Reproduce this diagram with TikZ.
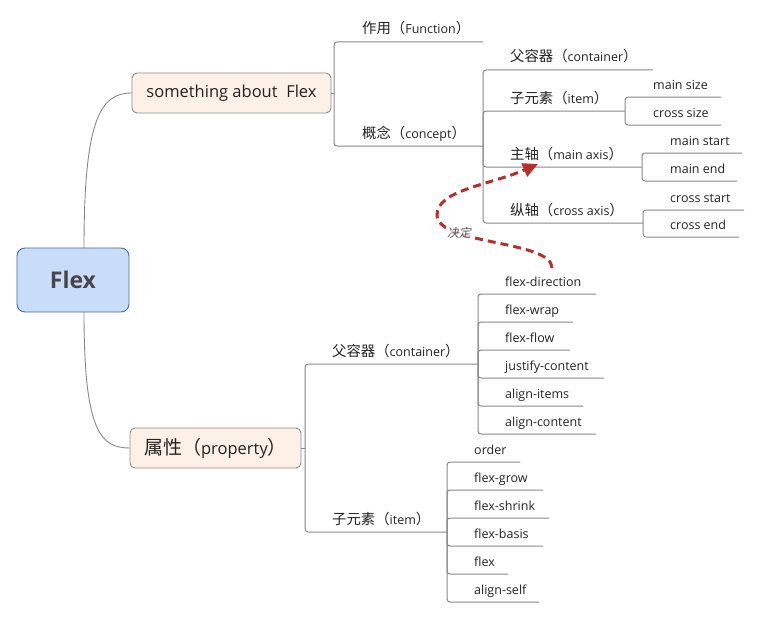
\documentclass[tikz,border=0pt]{standalone}
\usepackage{fontspec}
\setmainfont{Open Sans}
\newfontfamily\cjk[Scale=1.15]{Noto Sans CJK SC}
\newfontfamily\cjki[FakeSlant=0.2]{Noto Sans CJK SC}
\usetikzlibrary{arrows.meta}
\definecolor{linegray}{HTML}{888888}
\definecolor{boxgray}{HTML}{8C8C8C}
\definecolor{peach}{HTML}{FDF1E7}
\definecolor{rootfill}{HTML}{C9DCFA}
\definecolor{rootdraw}{HTML}{4B6A9B}
\definecolor{txt}{HTML}{222222}
\definecolor{dred}{HTML}{B3302D}
\newcommand{\zh}[1]{{\cjk #1}}
\tikzset{
  conn/.style={draw=linegray, line width=1pt, rounded corners=3pt},
  lbl/.style={anchor=base west, inner sep=0pt, text=txt, font=\fontsize{12.5}{14}\selectfont},
  topic/.style={draw=boxgray, fill=peach, line width=0.9pt, rounded corners=5pt, inner sep=0pt, text=txt, font=\fontsize{16.5}{19}\selectfont},
}
\begin{document}
\begin{tikzpicture}[x=1pt,y=-1pt]
\useasboundingbox (0,0) rectangle (760,618);
% root
\node[draw=rootdraw, fill=rootfill, line width=0.9pt, rounded corners=8pt, minimum width=112pt, minimum height=64pt, text=black!72, font=\fontsize{23}{26}\selectfont\bfseries] (root) at (73,280) {Flex};
\node[topic, minimum width=199pt, minimum height=40pt] (sab) at (231.5,93) {something about\ \ Flex};
\node[topic, minimum width=171pt, minimum height=40pt] (prop) at (215.5,448) {\zh{属性（}property\zh{）}};
\coordinate (rt) at (84,248);
\coordinate (rb) at (84,312);
\draw[draw=linegray, line width=0.9pt] (rt) .. controls (84,120) and (100,93) .. (sab.west);
\draw[draw=linegray, line width=0.9pt] (rb) .. controls (84,430) and (100,448) .. (prop.west);

% ---- top branch
\coordinate (j1) at (334,93);
\draw[conn] (sab.east) -- (j1);
\coordinate (eF) at (483,42);
\coordinate (eC) at (483,146);
\draw[conn] (j1) |- (eF);
\draw[conn] (j1) |- (eC);
\node[lbl] (func) at (362,34) {\zh{作用（}Function\zh{）}};
\node[lbl] (conc) at (362,138) {\zh{概念（}concept\zh{）}};

% concept children
\coordinate (eCP) at (653,70);
\coordinate (eIT) at (625,111);
\coordinate (eMA) at (642,167);
\coordinate (eCA) at (643,223);
\draw[conn] (eC) |- (eCP);
\draw[conn] (eC) |- (eIT);
\draw[conn] (eC) |- (eMA);
\draw[conn] (eC) |- (eCA);
\node[lbl] (cpar) at (510,62) {\zh{父容器（}container\zh{）}};
\node[lbl] (citem) at (510,103) {\zh{子元素（}item\zh{）}};
\node[lbl] (cmain) at (510,159) {\zh{主轴（}main axis\zh{）}};
\node[lbl] (ccross) at (510,215) {\zh{纵轴（}cross axis\zh{）}};

% item children
\coordinate (eMS) at (721,97);
\coordinate (eCS) at (721,125);
\draw[conn] (eIT) |- (eMS);
\draw[conn] (eIT) |- (eCS);
\node[lbl] (msize) at (653,89) {main size};
\node[lbl] (csize) at (653,117) {cross size};

% main axis children
\coordinate (eMSt) at (742,153);
\coordinate (eMEn) at (737,181);
\draw[conn] (eMA) |- (eMSt);
\draw[conn] (eMA) |- (eMEn);
\node[lbl] (mstart) at (670,145) {main start};
\node[lbl] (mend) at (670,173) {main end};

% cross axis children
\coordinate (eCSt) at (744,210);
\coordinate (eCEn) at (739,237);
\draw[conn] (eCA) |- (eCSt);
\draw[conn] (eCA) |- (eCEn);
\node[lbl] (cstart) at (670,202) {cross start};
\node[lbl] (cend) at (670,229) {cross end};

% ---- property branch
\coordinate (j2) at (305,448);
\draw[conn] (prop.east) -- (j2);
\coordinate (ePC) at (478,364);
\coordinate (ePI) at (447,532);
\draw[conn] (j2) |- (ePC);
\draw[conn] (j2) |- (ePI);
\node[lbl] (ppar) at (332,356) {\zh{父容器（}container\zh{）}};
\node[lbl] (pitem) at (332,524) {\zh{子元素（}item\zh{）}};

% container children
\coordinate (c1) at (596,294);
\coordinate (c2) at (573,322);
\coordinate (c3) at (570,350);
\coordinate (c4) at (604,378);
\coordinate (c5) at (583,406);
\coordinate (c6) at (596,434);
\foreach \c in {c1,c2,c3,c4,c5,c6} \draw[conn] (ePC) |- (\c);
\node[lbl] (fd) at (505,286) {flex-direction};
\node[lbl] (fw) at (505,314) {flex-wrap};
\node[lbl] (ff) at (505,342) {flex-flow};
\node[lbl] (jc) at (505,370) {justify-content};
\node[lbl] (ai) at (505,398) {align-items};
\node[lbl] (ac) at (505,426) {align-content};

% item children
\coordinate (i1) at (520,462);
\coordinate (i2) at (543,490);
\coordinate (i3) at (549,518);
\coordinate (i4) at (543,546);
\coordinate (i5) at (508,574);
\coordinate (i6) at (539,602);
\foreach \c in {i1,i2,i3,i4,i5,i6} \draw[conn] (ePI) |- (\c);
\node[lbl] (or) at (474,454) {order};
\node[lbl] (fg) at (474,482) {flex-grow};
\node[lbl] (fs) at (474,510) {flex-shrink};
\node[lbl] (fb) at (474,538) {flex-basis};
\node[lbl] (fl) at (474,566) {flex};
\node[lbl] (as) at (474,594) {align-self};

% ---- relationship arrow
\coordinate (rs) at (552,268);
\coordinate (rm) at (437,215);
\coordinate (re) at (538,164);
\draw[dred, line width=3pt, dash pattern=on 8pt off 5pt, -{Triangle[length=15pt,width=14pt]}]
  (rs) .. controls (552,240) and (437,245) .. (rm)
       .. controls (437,190) and (490,185) .. (re);
\node[fill=white, fill opacity=0.75, text opacity=1, inner sep=1pt, text=black!65, font=\fontsize{12}{14}\selectfont\cjki] (jd) at (459,233) {决定};
\end{tikzpicture}
\end{document}
